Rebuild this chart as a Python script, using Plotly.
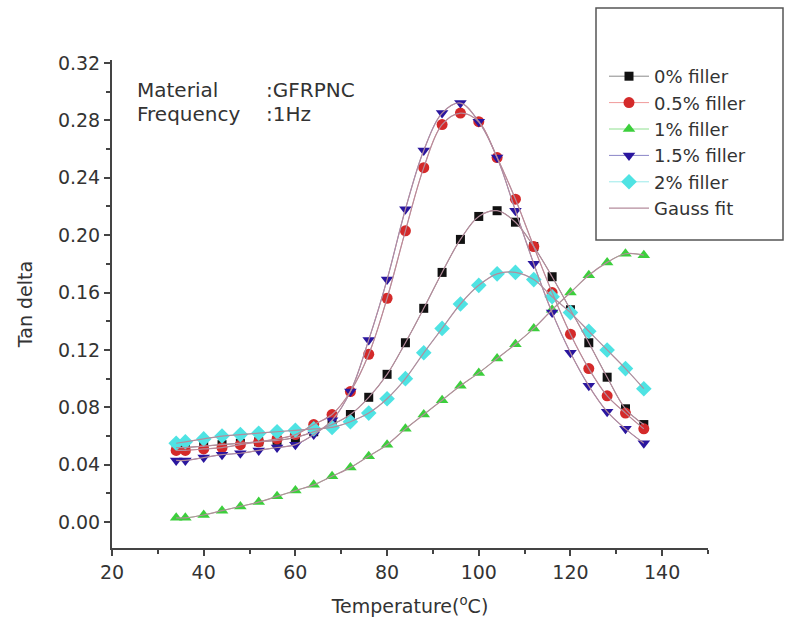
import plotly.graph_objects as go

temps = [34, 36, 40, 44, 48, 52, 56, 60, 64, 68, 72, 76, 80, 84, 88, 92, 96,
         100, 104, 108, 112, 116, 120, 124, 128, 132, 136]

filler_0 = [0.052, 0.052, 0.053, 0.054, 0.055, 0.056, 0.057, 0.059, 0.063, 0.068, 0.075, 0.087, 0.103, 0.125,
            0.149, 0.174, 0.197, 0.213, 0.217, 0.209, 0.192, 0.171, 0.148, 0.125, 0.101, 0.079, 0.068]
filler_05 = [0.050, 0.050, 0.051, 0.052, 0.054, 0.056, 0.058, 0.061, 0.068, 0.075, 0.091, 0.117, 0.156, 0.203,
             0.247, 0.277, 0.285, 0.279, 0.254, 0.225, 0.192, 0.160, 0.131, 0.107, 0.088, 0.076, 0.065]
filler_1 = [0.003, 0.003, 0.005, 0.008, 0.011, 0.014, 0.018, 0.022, 0.026, 0.032, 0.038, 0.046, 0.054, 0.065,
            0.075, 0.085, 0.095, 0.104, 0.114, 0.124, 0.135, 0.148, 0.160, 0.172, 0.181, 0.187, 0.186]
filler_15 = [0.043, 0.043, 0.045, 0.047, 0.048, 0.050, 0.052, 0.054, 0.061, 0.071, 0.091, 0.127, 0.169, 0.218,
             0.259, 0.285, 0.292, 0.279, 0.254, 0.217, 0.180, 0.146, 0.118, 0.095, 0.077, 0.065, 0.055]
filler_2 = [0.055, 0.056, 0.058, 0.060, 0.061, 0.062, 0.063, 0.064, 0.065, 0.066, 0.070, 0.076, 0.086, 0.100,
            0.118, 0.135, 0.152, 0.165, 0.173, 0.174, 0.169, 0.157, 0.146, 0.133, 0.120, 0.107, 0.093]

series_names = ["0% filler", "0.5% filler", "1% filler", "1.5% filler", "2% filler"]
series_values = [filler_0, filler_05, filler_1, filler_15, filler_2]
marker_colors = ["#111111", "#d42a2a", "#3ccf3c", "#2a169e", "#4fe3e3"]
line_colors = ["#8a8a8a", "#f09a9a", "#8fe08f", "#8a86c8", "#9aeaea"]
symbols = ["square", "circle", "triangle-up", "triangle-down", "diamond"]
sizes = [9, 11, 11, 11, 12]
fit_color = "#b48c9c"

FONT = "DejaVu Sans"

fig = go.Figure()
for name, vals, mc, lc, sym, sz in zip(series_names, series_values, marker_colors,
                                        line_colors, symbols, sizes):
    fig.add_trace(go.Scatter(
        x=temps, y=vals, name=name, mode="lines+markers",
        line=dict(color=lc, width=1, shape="spline"),
        marker=dict(symbol=sym, size=sz, color=mc, line=dict(width=0)),
    ))

for i, vals in enumerate(series_values):
    fig.add_trace(go.Scatter(
        x=temps, y=vals, name="Gauss fit", mode="lines",
        line=dict(color=fit_color, width=1.2, shape="spline"),
        showlegend=(i == 0), legendrank=1000,
    ))

L, R, T, B = 112, 85, 60, 90
W, H = 793, 638
pw, ph = W - L - R, H - T - B


def px(xp):
    return (xp - L) / pw


def py(yp):
    return (H - B - yp) / ph


fig.add_shape(type="rect", xref="paper", yref="paper",
              x0=px(596), x1=px(783), y0=py(240), y1=py(8),
              line=dict(color="#555555", width=1.5), fillcolor="white", layer="below")

fig.add_annotation(text="Material", xref="paper", yref="paper", x=px(135), y=py(90),
                   xanchor="left", yanchor="middle", showarrow=False,
                   font=dict(family=FONT, size=20, color="#333333"))
fig.add_annotation(text=":GFRPNC", xref="paper", yref="paper", x=px(264), y=py(90),
                   xanchor="left", yanchor="middle", showarrow=False,
                   font=dict(family=FONT, size=20, color="#333333"))
fig.add_annotation(text="Frequency", xref="paper", yref="paper", x=px(135), y=py(114),
                   xanchor="left", yanchor="middle", showarrow=False,
                   font=dict(family=FONT, size=20, color="#333333"))
fig.add_annotation(text=":1Hz", xref="paper", yref="paper", x=px(264), y=py(114),
                   xanchor="left", yanchor="middle", showarrow=False,
                   font=dict(family=FONT, size=20, color="#333333"))

fig.update_layout(
    width=W, height=H,
    margin=dict(l=L, r=R, t=T, b=B),
    paper_bgcolor="white", plot_bgcolor="white",
    font=dict(family=FONT, size=19, color="#333333"),
    showlegend=True,
    legend=dict(x=px(604), y=py(58), xanchor="left", yanchor="top",
                bgcolor="rgba(0,0,0,0)", borderwidth=0,
                font=dict(family=FONT, size=18, color="#333333"),
                itemwidth=40),
    xaxis=dict(range=[20, 150], tickvals=[20, 40, 60, 80, 100, 120, 140],
               showgrid=False, zeroline=False, showline=True, linecolor="#444444", linewidth=2,
               ticks="outside", ticklen=6, tickwidth=2, tickcolor="#444444",
               minor=dict(dtick=10, tick0=0, ticks="outside", ticklen=4, tickwidth=1.5, tickcolor="#444444"),
               title=dict(text="Temperature(<sup>o</sup>C)", font=dict(family=FONT, size=19), standoff=18),
               tickfont=dict(family=FONT, size=19)),
    yaxis=dict(range=[-0.018, 0.322], tickvals=[0.0, 0.04, 0.08, 0.12, 0.16, 0.20, 0.24, 0.28, 0.32],
               tickformat=".2f",
               showgrid=False, zeroline=False, showline=True, linecolor="#444444", linewidth=2,
               ticks="outside", ticklen=6, tickwidth=2, tickcolor="#444444",
               minor=dict(dtick=0.02, tick0=0, ticks="outside", ticklen=4, tickwidth=1.5, tickcolor="#444444"),
               title=dict(text="Tan delta", font=dict(family=FONT, size=19), standoff=20),
               tickfont=dict(family=FONT, size=19)),
)

fig.write_html("out.html")
